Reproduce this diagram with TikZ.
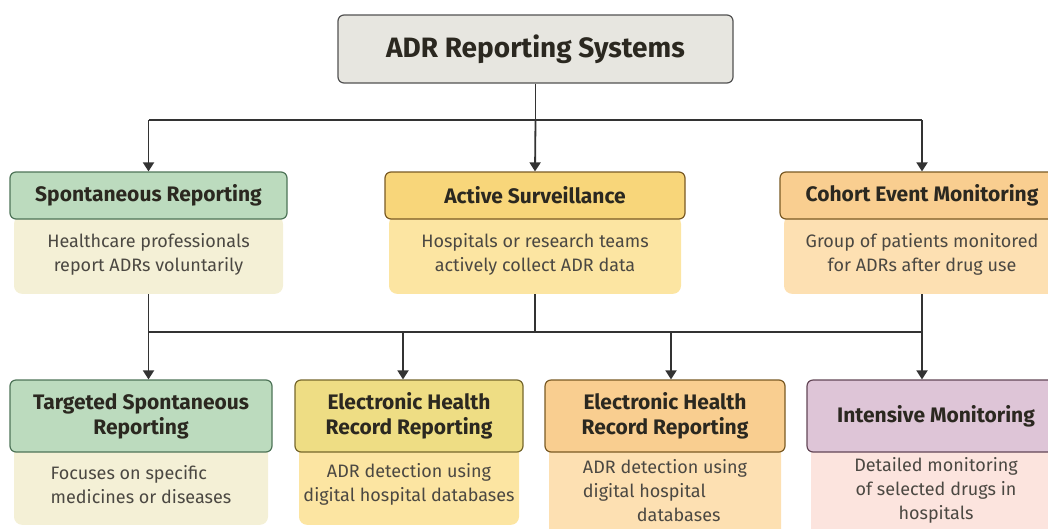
\documentclass[tikz,border=0pt]{standalone}
\usepackage{fontspec}
\setmainfont{Fira Sans}
\usepackage{xcolor}
\usetikzlibrary{arrows.meta, positioning, backgrounds}

\definecolor{linegrey}{HTML}{333333}
\definecolor{inkdark}{HTML}{2B2820}
\definecolor{topfill}{HTML}{E7E6E0}
\definecolor{greenhead}{HTML}{BCDBBE}
\definecolor{greenline}{HTML}{4E7458}
\definecolor{creambody}{HTML}{F4F0D6}
\definecolor{yellowhead}{HTML}{F8D67A}
\definecolor{yellowbody}{HTML}{FCE5A2}
\definecolor{brownline}{HTML}{7A5A24}
\definecolor{orangehead}{HTML}{F9CE90}
\definecolor{orangebody}{HTML}{FDE0B2}
\definecolor{oliveline}{HTML}{76672C}
\definecolor{olivehead}{HTML}{EEDD84}
\definecolor{mauvehead}{HTML}{DEC5D7}
\definecolor{mauveline}{HTML}{634656}
\definecolor{pinkbody}{HTML}{FCE4DE}

\begin{document}
\begin{tikzpicture}[x=1pt, y=-1pt,
    head/.style={draw, rounded corners=6pt, line width=1.2pt, align=center,
      inner sep=0pt, text=inkdark, font=\fontsize{21}{25}\selectfont\bfseries},
    body/.style={rounded corners=8pt, inner sep=0pt, align=center, text=inkdark!85,
      font=\fontsize{18}{24}\selectfont},
    link/.style={line width=1.8pt, draw=linegrey},
    arr/.style={link, -{Triangle[width=11pt,length=9pt]}}]

  % frame of the picture
  \clip (0,0) rectangle (1048,528);

  % root
  \node[head, fill=topfill, draw=linegrey!85, minimum width=395pt, minimum height=68pt,
    font=\fontsize{28}{32}\selectfont\bfseries] (root) at (535.5,49) {ADR Reporting Systems};

  % second row
  \node[head, fill=greenhead, draw=greenline, minimum width=277pt, minimum height=47pt]
    (spont) at (148.5,195.5) {Spontaneous Reporting};
  \node[head, fill=yellowhead, draw=brownline, minimum width=300pt, minimum height=47pt]
    (active) at (535,195.5) {Active Surveillance};
  \node[head, fill=orangehead, draw=brownline, minimum width=284pt, minimum height=47pt]
    (cohort) at (922,195.5) {Cohort Event Monitoring};

  \begin{pgfonlayer}{background}
    \node[body, fill=creambody, minimum width=269pt, minimum height=78pt, below=-4pt of spont]
      (spontbody) {Healthcare professionals\\report ADRs voluntarily};
    \node[body, fill=yellowbody, minimum width=292pt, minimum height=78pt, below=-4pt of active]
      (activebody) {Hospitals or research teams\\actively collect ADR data};
    \node[body, fill=orangebody, minimum width=276pt, minimum height=78pt, below=-4pt of cohort]
      (cohortbody) {Group of patients monitored\\for ADRs after drug use};
  \end{pgfonlayer}

  % third row
  \node[head, fill=greenhead, draw=greenline, minimum width=262pt, minimum height=72pt]
    (targ) at (141,416) {Targeted Spontaneous\\Reporting};
  \node[head, fill=olivehead, draw=oliveline, minimum width=228pt, minimum height=72pt]
    (ehra) at (409,416) {Electronic Health\\Record Reporting};
  \node[head, fill=orangehead, draw=brownline, minimum width=240pt, minimum height=72pt]
    (ehrb) at (665,416) {Electronic Health\\Record Reporting};
  \node[head, fill=mauvehead, draw=mauveline, minimum width=258pt, minimum height=72pt]
    (intens) at (936,416) {Intensive Monitoring};

  \begin{pgfonlayer}{background}
    \node[body, fill=creambody, minimum width=254pt, minimum height=80pt, align=left,
      below=-8pt of targ] (targbody) {Focuses on specific\\medicines or diseases};
    \node[body, fill=yellowbody, minimum width=220pt, minimum height=80pt,
      below=-8pt of ehra] (ehrabody) {ADR detection using\\digital hospital databases};
    \node[body, fill=orangebody, minimum width=232pt, minimum height=92pt, align=left,
      below=-8pt of ehrb] (ehrbbody) {ADR detection using\\digital hospital\\\hspace*{3em}databases};
    \node[body, fill=pinkbody, minimum width=250pt, minimum height=92pt,
      below=-8pt of intens] (intensbody) {Detailed monitoring\\of selected drugs in\\hospitals};
  \end{pgfonlayer}

  % connectors root -> second row
  \coordinate (busa) at (535.5,120);
  \coordinate (busal) at (148.5,120);
  \coordinate (busar) at (922,120);
  \draw[link] (root.south) -- (busa);
  \draw[link] (busal) -- (busar);
  \draw[arr] (busal) -- (spont.north);
  \draw[arr] (busa) -- (active.north);
  \draw[arr] (busar) -- (cohort.north);

  % connectors second row -> third row
  \coordinate (busb) at (148.5,332);
  \coordinate (busbr) at (922,332);
  \draw[link] (spontbody.south) -- (spontbody.south |- busb);
  \draw[link] (activebody.south) -- (activebody.south |- busb);
  \draw[link] (cohortbody.south) -- (cohortbody.south |- busb);
  \draw[link] (busb) -- (busbr);
  \foreach \xx/\dst in {148.5/targ, 403/ehra, 671/ehrb, 922/intens} {
    \coordinate (drop) at (\xx,332);
    \draw[arr] (drop) -- (drop |- \dst.north);
  }
\end{tikzpicture}
\end{document}
